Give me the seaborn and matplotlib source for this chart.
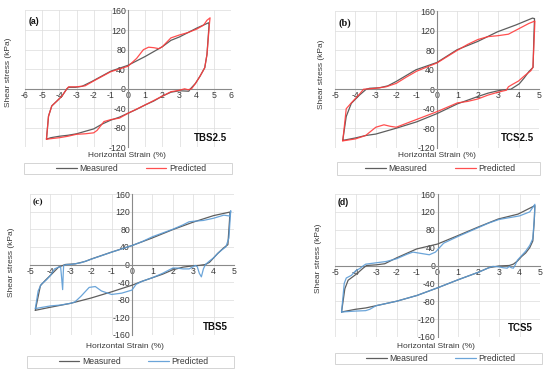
import numpy as np
import pandas as pd
import matplotlib
matplotlib.use("Agg")
import matplotlib.pyplot as plt
from matplotlib.patches import Rectangle
import seaborn as sns

# ---------------- data ----------------
# Panel (a) TBS2.5
a_meas_x = [-4.75, -4.63, -4.44, -4.14, -3.85, -3.56, -3.46, -3.07, -2.68, -2.1, -1.0, 0.0, 1.0, 2.0, 2.5, 3.0, 4.0, 4.7,
            4.72, 4.6, 4.47, 4.2, 3.93, 3.64, 3.54, 3.0, 2.5, 2.0, 1.5, 1.0, 0.5, 0.0, -0.5, -1.0, -1.5, -2.0, -2.5, -3.0, -3.5, -4.0, -4.5, -4.75]
a_meas_y = [-103, -56, -35, -25, -15, 0, 3, 3, 5, 15, 36, 48, 66, 86, 99, 106, 124, 135,
            130, 70, 43, 26, 11, 0, -5, -4, -7, -15, -25, -33, -42, -50, -58, -64, -72, -82, -87, -92, -95, -97, -100, -103]
a_pred_x = [-4.75, -4.63, -4.44, -4.14, -3.85, -3.56, -3.46, -3.0, -2.5, -2.0, -1.0, 0.0, 0.5, 0.9, 1.2, 1.5, 1.8, 2.0, 2.5, 3.0, 3.5, 4.0, 4.4, 4.6, 4.78,
            4.75, 4.6, 4.47, 4.2, 3.93, 3.7, 3.5, 3.3, 3.0, 2.5, 2.0, 1.0, 0.0, -0.5, -1.0, -1.4, -1.8, -2.0, -2.5, -3.0, -3.5, -4.0, -4.5, -4.75]
a_pred_y = [-103, -56, -35, -25, -15, 0, 4, 4, 6, 16, 35, 46, 62, 80, 85, 84, 82, 86, 104, 110, 115, 122, 130, 140, 145,
            135, 70, 43, 26, 11, 0, -2, 0, -3, -6, -15, -33, -50, -60, -63, -67, -85, -90, -92, -93, -97, -100, -102, -103]

# Panel (b) TCS2.5
b_meas_x = [-4.62, -4.45, -4.2, -3.8, -3.47, -3.3, -2.82, -2.41, -2.0, -1.03, 0.0, 0.98, 1.99, 2.97, 3.87, 4.68, 4.78,
            4.75, 4.71, 4.5, 4.27, 4.03, 3.62, 3.3, 3.0, 2.5, 2.0, 1.0, 0.0, -1.0, -2.0, -3.0, -3.5, -4.0, -4.62]
b_meas_y = [-105, -56, -29, -12, 0, 2, 3, 7, 16, 40, 55, 81, 98, 118, 132, 146, 145,
            110, 45, 36, 23, 11, 0, -1, -3, -8, -15, -30, -50, -67, -80, -92, -95, -100, -105]
b_pred_x = [-4.62, -4.5, -4.45, -4.2, -3.8, -3.6, -3.0, -2.5, -2.0, -1.5, -1.0, 0.0, 1.0, 1.5, 2.0, 2.5, 3.0, 3.5, 4.0, 4.5, 4.8,
            4.77, 4.7, 4.6, 4.3, 4.0, 3.7, 3.5, 3.4, 3.0, 2.5, 2.0, 1.5, 1.0, 0.0, -1.0, -1.5, -2.0, -2.3, -2.6, -3.0, -3.5, -4.0, -4.62]
b_pred_y = [-106, -60, -40, -28, -10, 0, 2, 5, 12, 25, 37, 54, 80, 92, 102, 108, 110, 113, 124, 135, 140,
            110, 45, 38, 28, 17, 10, 5, -2, -6, -12, -20, -25, -28, -46, -62, -70, -78, -76, -73, -78, -95, -102, -106]

# Panel (c) TBS5
c_meas_x = [-4.74, -4.49, -4.25, -3.92, -3.6, -3.27, -2.78, -2.29, -1.96, -1.01, 0.0, 0.98, 1.99, 2.99, 4.0, 4.8,
            4.78, 4.7, 4.5, 4.2, 4.0, 3.8, 3.6, 3.3, 3.0, 2.5, 2.0, 1.5, 1.0, 0.5, 0.0, -1.0, -2.0, -3.0, -4.0, -4.74]
c_meas_y = [-104, -48, -36, -21, -6, 0, 1.5, 7, 13, 28, 43, 60, 79, 96, 111, 119,
            100, 45, 38, 25, 15, 5, 0, -2, -3, -6, -12, -22, -30, -38, -47, -62, -76, -88, -97, -104]
c_pred_x = [-4.74, -4.6, -4.45, -4.2, -4.0, -3.8, -3.6, -3.5, -3.45, -3.4, -3.37, -3.35, -3.2, -3.0, -2.5, -2.0, -1.5, -1.0, 0.0, 0.5, 1.0, 2.0, 2.5, 2.8, 3.0, 3.5, 4.0, 4.5, 4.8, 4.84,
            4.82, 4.75, 4.6, 4.4, 4.2, 4.0, 3.8, 3.6, 3.5, 3.4, 3.3, 3.2, 3.1, 3.0, 2.8, 2.5, 2.2, 2.0, 1.5, 1.0, 0.5, 0.2, 0.0, -0.5, -1.0, -1.5, -1.8, -2.1, -2.5, -2.8, -3.0, -3.5, -4.0, -4.5, -4.74]
c_pred_y = [-100, -60, -45, -35, -25, -10, -6, -5, -30, -57, -20, -2, 0, 0, 4, 12, 20, 28, 43, 52, 63, 80, 90, 97, 98, 100, 105, 112, 110, 122,
            110, 60, 40, 33, 25, 15, 8, 0, -10, -28, -20, -5, -2, -5, -10, -10, -8, -8, -20, -30, -38, -45, -58, -65, -68, -60, -50, -52, -72, -85, -88, -92, -94, -98, -100]

# Panel (d) TCS5
d_meas_x = [-4.68, -4.52, -4.36, -3.95, -3.63, -3.46, -2.98, -2.57, -2.0, -1.02, 0.0, 1.0, 1.98, 2.96, 3.93, 4.75,
            4.72, 4.65, 4.5, 4.3, 4.1, 3.9, 3.7, 3.5, 3.0, 2.5, 2.0, 1.0, 0.0, -1.0, -2.0, -3.0, -3.5, -4.0, -4.68]
d_meas_y = [-104, -52, -33, -19, -6, 0, 1.5, 4, 17, 37, 48, 67, 86, 104, 115, 134,
            100, 55, 40, 28, 20, 10, 3, 0, -1, -5, -15, -32, -50, -67, -80, -90, -95, -98, -104]
d_pred_x = [-4.68, -4.55, -4.45, -4.2, -4.0, -3.8, -3.6, -3.5, -3.0, -2.5, -2.0, -1.5, -1.2, -0.8, -0.4, -0.1, 0.1, 0.3, 1.0, 2.0, 2.5, 3.0, 3.5, 4.0, 4.5, 4.75,
            4.73, 4.65, 4.5, 4.3, 4.1, 3.9, 3.8, 3.7, 3.6, 3.5, 3.4, 3.2, 3.0, 2.7, 2.5, 2.0, 1.0, 0.0, -1.0, -2.0, -2.5, -3.0, -3.3, -3.5, -4.0, -4.68]
d_pred_y = [-104, -40, -28, -22, -12, -7, 0, 3, 6, 9, 15, 25, 30, 27, 24, 30, 40, 50, 65, 85, 95, 103, 107, 111, 120, 137,
            110, 60, 45, 32, 22, 12, 2, -6, -5, -2, -6, -5, -3, -2, -5, -15, -32, -50, -67, -80, -85, -90, -98, -101, -102, -104]

panel_letters = ["(a)", "(b)", "(c)", "(d)"]
panel_names = ["TBS2.5", "TCS2.5", "TBS5", "TCS5"]
x_ticks_ab = [[-6, -5, -4, -3, -2, -1, 0, 1, 2, 3, 4, 5, 6], [-5, -4, -3, -2, -1, 0, 1, 2, 3, 4, 5]]
x_ticks_cd = [-5, -4, -3, -2, -1, 0, 1, 2, 3, 4, 5]
y_ticks_ab = [-120, -80, -40, 0, 40, 80, 120, 160]
y_ticks_cd = [-160, -120, -80, -40, 0, 40, 80, 120, 160]
series_labels = ["Measured", "Predicted"]
x_label = "Horizontal Strain (%)"
y_label = "Shear stress (kPa)"

# ---------------- styling ----------------
sns.set_theme(style="white")
plt.rcParams["font.family"] = ["Liberation Sans", "DejaVu Sans"]

W, H = 550, 373
fig = plt.figure(figsize=(W / 100, H / 100), dpi=100)

def fx(p):
    return p / W

def fy(p):
    return 1 - p / H

MEAS_C = "#5e5e5e"
RED = "#ff3c3c"
BLUE = "#5b9bd5"
TXT = "#3a3a3a"

panels = [
    dict(box=(25, 10.5, 231, 147.5), xt=x_ticks_ab[0], yt=y_ticks_ab,
         mx=a_meas_x, my=a_meas_y, px=a_pred_x, py=a_pred_y, pc=RED,
         ylab=(9, 72), xlab=(127, 155.7), leg=(131, 168.5), legbox=(24, 162.7, 232, 174.3),
         let=(29, 21.7), letfam="sans", letsize=6.3, name=(227, 137.7)),
    dict(box=(335, 11.3, 539, 147.7), xt=x_ticks_ab[1], yt=y_ticks_ab,
         mx=b_meas_x, my=b_meas_y, px=b_pred_x, py=b_pred_y, pc=RED,
         ylab=(321.7, 74), xlab=(436.7, 155.7), leg=(440.3, 168.7), legbox=(336.7, 162.3, 540, 175),
         let=(338.3, 22.7), letfam="serif", letsize=7.5, name=(534.3, 137.8)),
    dict(box=(30, 194, 234, 335), xt=x_ticks_cd, yt=y_ticks_cd,
         mx=c_meas_x, my=c_meas_y, px=c_pred_x, py=c_pred_y, pc=BLUE,
         ylab=(11.7, 262), xlab=(125, 346.3), leg=(133.5, 361.8), legbox=(26.7, 356, 234.3, 367.7),
         let=(33, 202), letfam="serif", letsize=6.8, name=(228, 327)),
    dict(box=(335, 194, 540, 337), xt=x_ticks_cd, yt=y_ticks_cd,
         mx=d_meas_x, my=d_meas_y, px=d_pred_x, py=d_pred_y, pc=BLUE,
         ylab=(318.3, 258), xlab=(436, 346.3), leg=(440.8, 358.5), legbox=(335, 352.7, 541.7, 364.3),
         let=(338, 202.5), letfam="sans", letsize=6.3, name=(533, 328)),
]

for i, p in enumerate(panels):
    x0, y0, x1, y1 = p["box"]
    ax = fig.add_axes([fx(x0), fy(y1), (x1 - x0) / W, (y1 - y0) / H])
    ax.set_facecolor("none")
    dm = pd.DataFrame({"x": p["mx"], "y": p["my"]})
    dp = pd.DataFrame({"x": p["px"], "y": p["py"]})
    sns.lineplot(data=dm, x="x", y="y", sort=False, estimator=None, ax=ax,
                 color=MEAS_C, lw=0.9, zorder=3)
    sns.lineplot(data=dp, x="x", y="y", sort=False, estimator=None, ax=ax,
                 color=p["pc"], lw=0.9, alpha=0.9, zorder=4)
    xt, yt = p["xt"], p["yt"]
    ax.set_xlim(xt[0], xt[-1])
    ax.set_ylim(yt[0], yt[-1])
    ax.set_xticks(xt)
    ax.set_yticks(yt)
    ax.set_xticklabels([str(v) for v in xt])
    ax.set_yticklabels([str(v) for v in yt])
    ax.set_xlabel("")
    ax.set_ylabel("")
    ax.grid(True, color="#dcdcdc", lw=0.5)
    ax.set_axisbelow(True)
    for s in ["top", "right"]:
        ax.spines[s].set_visible(False)
    for s in ["left", "bottom"]:
        ax.spines[s].set_position("zero")
        ax.spines[s].set_color("#8a8a8a")
        ax.spines[s].set_linewidth(0.8)
        ax.spines[s].set_zorder(2)
    ax.tick_params(axis="both", length=0, labelsize=6.3, colors=TXT, pad=1.5)

    # axis labels
    fig.text(fx(p["ylab"][0]), fy(p["ylab"][1]), y_label, rotation=90,
             ha="center", va="center", fontsize=6, color=TXT)
    fig.text(fx(p["xlab"][0]), fy(p["xlab"][1]), x_label,
             ha="center", va="center", fontsize=6, color=TXT)
    # panel letter
    fam = ["Liberation Serif", "DejaVu Serif"] if p["letfam"] == "serif" else ["Liberation Sans", "DejaVu Sans"]
    fig.text(fx(p["let"][0]), fy(p["let"][1]), panel_letters[i], ha="left", va="center",
             fontsize=p["letsize"], fontweight="bold", family=fam, color="#111111")
    # specimen name
    fig.text(fx(p["name"][0]), fy(p["name"][1]), panel_names[i], ha="right", va="center",
             fontsize=7, fontweight="bold", color="#111111")
    # legend
    handles = ax.lines[:2]
    fig.legend(handles, series_labels, loc="center",
               bbox_to_anchor=(fx(p["leg"][0]), fy(p["leg"][1])), ncol=2, frameon=False,
               fontsize=6.2, handlelength=2.4, handletextpad=0.3, columnspacing=3.2,
               borderpad=0, borderaxespad=0, labelcolor=TXT)
    bx0, by0, bx1, by1 = p["legbox"]
    fig.patches.append(Rectangle((fx(bx0), fy(by1)), (bx1 - bx0) / W, (by1 - by0) / H,
                                 transform=fig.transFigure, fill=False, ec="#d4d4d4", lw=0.7))

fig.savefig("out.png", dpi=100)
